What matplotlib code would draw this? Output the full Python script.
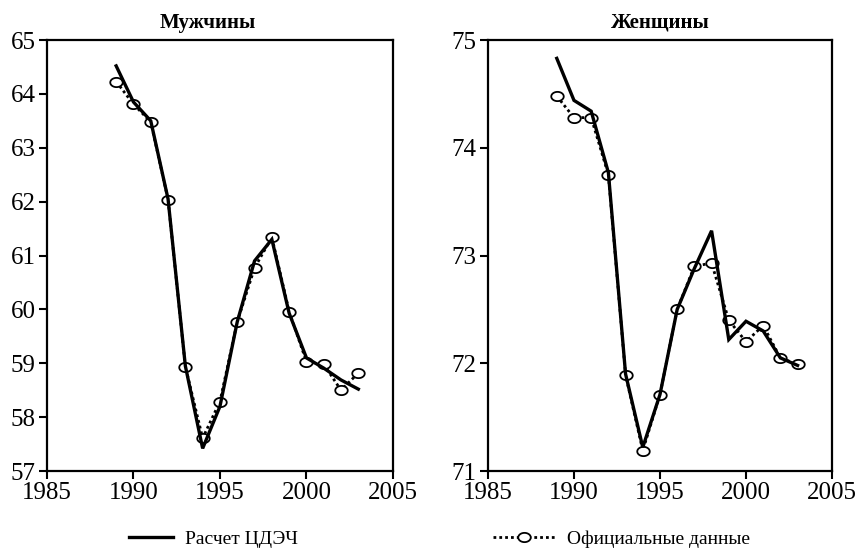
import matplotlib
matplotlib.use("Agg")
import matplotlib.pyplot as plt
from matplotlib.lines import Line2D
from matplotlib.path import Path
import numpy as np

## DATA
years = list(range(1989, 2004))

# men, life expectancy
men_cdeh = [64.52, 63.85, 63.50, 62.05, 58.95, 57.42, 58.20, 59.77, 60.90,
            61.30, 59.93, 59.10, 58.91, 58.69, 58.52]
men_official = [64.23, 63.81, 63.48, 62.04, 58.94, 57.61, 58.29, 59.77, 60.77,
                61.34, 59.96, 59.03, 58.98, 58.50, 58.82]

# women, life expectancy
women_cdeh = [74.83, 74.44, 74.34, 73.77, 71.90, 71.22, 71.71, 72.50, 72.88,
              73.23, 72.22, 72.39, 72.30, 72.05, 71.98]
women_official = [74.48, 74.28, 74.28, 73.75, 71.89, 71.19, 71.71, 72.50, 72.90,
                  72.93, 72.40, 72.20, 72.35, 72.05, 71.99]

titles = ["Мужчины", "Женщины"]
title_x = [0.465, 0.5]
xticks = [1985, 1990, 1995, 2000, 2005]
yticks_men = [57, 58, 59, 60, 61, 62, 63, 64, 65]
yticks_women = [71, 72, 73, 74, 75]

label_cdeh = "Расчет ЦДЭЧ"
label_official = "Официальные данные"

## SETTINGS
plt.rcParams['font.family'] = ['Liberation Serif', 'DejaVu Serif']

# slightly flattened circle, like in the source
t = np.linspace(0, 2 * np.pi, 40)
ellipse = Path(np.column_stack([1.35 * np.cos(t), np.sin(t)]), closed=True)

line_kw = dict(color="black", lw=2.4, solid_joinstyle="miter")
off_kw = dict(color="black", lw=2.0, ls=(0, (1, 1.1)), marker=ellipse, ms=9,
              mfc="white", mec="black", mew=1.3)

fig = plt.figure(figsize=(8.57, 5.5), dpi=100)
ax1 = fig.add_axes([0.0548, 0.1436, 0.4037, 0.7836])
ax2 = fig.add_axes([0.5694, 0.1436, 0.4014, 0.7836])

panels = [(ax1, men_cdeh, men_official, yticks_men),
          (ax2, women_cdeh, women_official, yticks_women)]

for (ax, cdeh, official, yt), title, tx in zip(panels, titles, title_x):
    ax.plot(years, official, zorder=2, **off_kw)
    ax.plot(years, cdeh, zorder=3, **line_kw)
    ax.set_xlim(xticks[0], xticks[-1])
    ax.set_ylim(yt[0], yt[-1])
    ax.set_xticks(xticks)
    ax.set_yticks(yt)
    ax.tick_params(direction="out", length=6, width=1.5, labelsize=18, pad=2)
    for s in ax.spines.values():
        s.set_linewidth(1.6)
    ax.set_title(title, fontsize=15, fontweight="bold", pad=9, x=tx)

# legends: one under each panel
h1 = [Line2D([], [], **line_kw)]
h2 = [Line2D([], [], **off_kw)]
fig.legend(h1, [label_cdeh], loc="center", bbox_to_anchor=(0.249, 0.02),
           frameon=False, fontsize=14, handlelength=2.3, handletextpad=0.6)
fig.legend(h2, [label_official], loc="center", bbox_to_anchor=(0.725, 0.02),
           frameon=False, fontsize=14, handlelength=3.2, handletextpad=0.6)

fig.savefig("out.png", dpi=100)
